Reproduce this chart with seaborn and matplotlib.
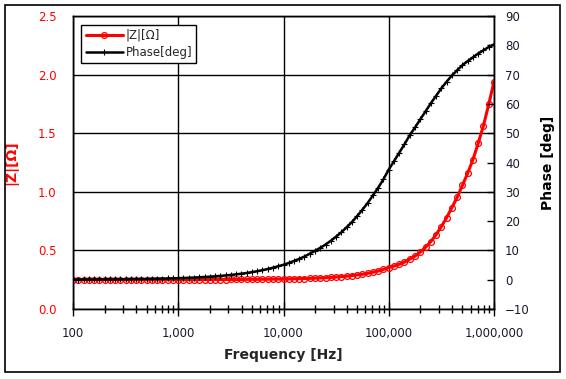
import numpy as np
import pandas as pd
import matplotlib
matplotlib.use('Agg')
import matplotlib.pyplot as plt
import matplotlib.ticker as mticker
from matplotlib.patches import Rectangle
import seaborn as sns

# Frequency points (Hz), 20 per decade
freq = [100, 112, 126, 141, 158, 178, 200, 224, 251, 282, 316, 355, 398, 447, 501, 562, 631, 708, 794, 891,
        1000, 1120, 1260, 1410, 1580, 1780, 2000, 2240, 2510, 2820, 3160, 3550, 3980, 4470, 5010, 5620, 6310, 7080, 7940, 8910,
        10000, 11200, 12600, 14100, 15800, 17800, 20000, 22400, 25100, 28200, 31600, 35500, 39800, 44700, 50100, 56200, 63100, 70800, 79400, 89100,
        100000, 112000, 126000, 141000, 158000, 178000, 200000, 224000, 251000, 282000, 316000, 355000, 398000, 447000, 501000, 562000, 631000, 708000, 794000, 891000,
        1000000]

# |Z| in ohm
z_mag = [0.250, 0.250, 0.250, 0.250, 0.250, 0.250, 0.250, 0.250, 0.250, 0.250, 0.250, 0.250, 0.250, 0.250, 0.250, 0.250, 0.250, 0.250, 0.250, 0.250,
         0.250, 0.250, 0.250, 0.250, 0.250, 0.251, 0.251, 0.251, 0.251, 0.251, 0.252, 0.252, 0.252, 0.253, 0.253, 0.253, 0.254, 0.254, 0.255, 0.255,
         0.256, 0.256, 0.257, 0.259, 0.260, 0.261, 0.263, 0.265, 0.267, 0.269, 0.272, 0.276, 0.280, 0.285, 0.291, 0.296, 0.304, 0.314, 0.324, 0.338,
         0.354, 0.366, 0.382, 0.400, 0.425, 0.451, 0.486, 0.527, 0.575, 0.635, 0.703, 0.780, 0.865, 0.953, 1.055, 1.158, 1.275, 1.415, 1.565, 1.745,
         1.94]

# phase in degrees
phase = [0.05, 0.06, 0.07, 0.07, 0.08, 0.09, 0.10, 0.12, 0.13, 0.15, 0.16, 0.18, 0.21, 0.23, 0.26, 0.29, 0.33, 0.37, 0.41, 0.46,
         0.52, 0.58, 0.65, 0.73, 0.82, 0.92, 1.03, 1.16, 1.29, 1.45, 1.63, 1.83, 2.05, 2.30, 2.58, 2.90, 3.25, 3.65, 4.09, 4.59,
         5.1, 5.7, 6.4, 7.1, 7.9, 8.9, 9.9, 10.9, 12.0, 13.3, 14.7, 16.2, 17.9, 19.7, 21.7, 23.9, 26.2, 28.8, 31.4, 34.3,
         37.6, 40.4, 43.4, 46.2, 49.3, 52.0, 54.8, 57.5, 60.2, 62.8, 65.3, 67.6, 69.7, 71.5, 73.2, 74.6, 75.9, 77.2, 78.3, 79.4,
         80.3]

df = pd.DataFrame({'freq': freq, 'z': z_mag, 'phase': phase})

sns.set_theme(style='white')
plt.rcParams['font.family'] = ['DejaVu Sans']

fig = plt.figure(figsize=(5.66, 3.79), dpi=100)
ax = fig.add_axes([73/566, 1 - 309/379, (494 - 73)/566, (309 - 16)/379])
ax2 = ax.twinx()

sns.lineplot(data=df, x='freq', y='z', ax=ax, color='#ff0000', lw=2.2, marker='o',
             markersize=4.2, markerfacecolor='none', markeredgecolor='#ff0000', markeredgewidth=0.9,
             label='|Z|[Ω]', legend=False)
sns.lineplot(data=df, x='freq', y='phase', ax=ax2, color='black', lw=1.8, marker='+',
             markersize=4, markeredgewidth=0.8, markeredgecolor='black', markerfacecolor='black',
             label='Phase[deg]', legend=False)

ax.set_xscale('log')
ax.set_xlim(100, 1000000)
ax.set_ylim(0, 2.5)
ax2.set_ylim(-10, 90)
ax.set_yticks([0, 0.5, 1.0, 1.5, 2.0, 2.5])
ax.yaxis.set_major_formatter(mticker.FormatStrFormatter('%.1f'))
ax2.set_yticks(range(-10, 100, 10))
ax.xaxis.set_major_formatter(mticker.FuncFormatter(lambda v, p: f'{int(round(v)):,}'))
ax.xaxis.set_minor_locator(mticker.LogLocator(base=10, subs=range(2, 10)))
ax.xaxis.set_minor_formatter(mticker.NullFormatter())

ax.grid(True, which='major', axis='both', color='black', lw=1)
ax2.grid(False)
ax.set_axisbelow(True)

for a in (ax, ax2):
    for s in a.spines.values():
        s.set_color('black')
        s.set_linewidth(1)

ax.tick_params(axis='x', which='major', direction='inout', length=10, width=1, color='black',
               labelsize=8.5, labelcolor='#1a1a2e', pad=8, bottom=True)
ax.tick_params(axis='x', which='minor', direction='inout', length=6, width=1, color='black', bottom=True)
ax.tick_params(axis='y', length=0, labelsize=8.5, labelcolor='#ff0000', pad=12)
ax2.tick_params(axis='y', direction='in', length=5, width=1, color='black',
                labelsize=8.5, labelcolor='#1a1a2e', pad=8, right=True)

ax.set_xlabel('Frequency [Hz]', fontsize=10, fontweight='bold', labelpad=6)
ax.set_ylabel('|Z|[Ω]', fontsize=10, fontweight='bold', color='#ff0000', labelpad=14)
ax2.set_ylabel('Phase [deg]', fontsize=10, fontweight='bold', color='black', labelpad=8)

h1, l1 = ax.get_legend_handles_labels()
h2, l2 = ax2.get_legend_handles_labels()
leg = ax2.legend(h1 + h2, l1 + l2, loc='upper left', bbox_to_anchor=(0.02, 0.97),
                 fontsize=8.5, frameon=True, fancybox=False, edgecolor='black',
                 framealpha=1, borderpad=0.35, labelspacing=0.35, handlelength=3.2,
                 handletextpad=0.2, borderaxespad=0)
leg.get_frame().set_linewidth(1)

fig.patches.append(Rectangle((5/566, 1 - 372/379), 555/566, 367/379, transform=fig.transFigure,
                             fill=False, edgecolor='black', lw=1.2))

fig.savefig('out.png', dpi=100)
